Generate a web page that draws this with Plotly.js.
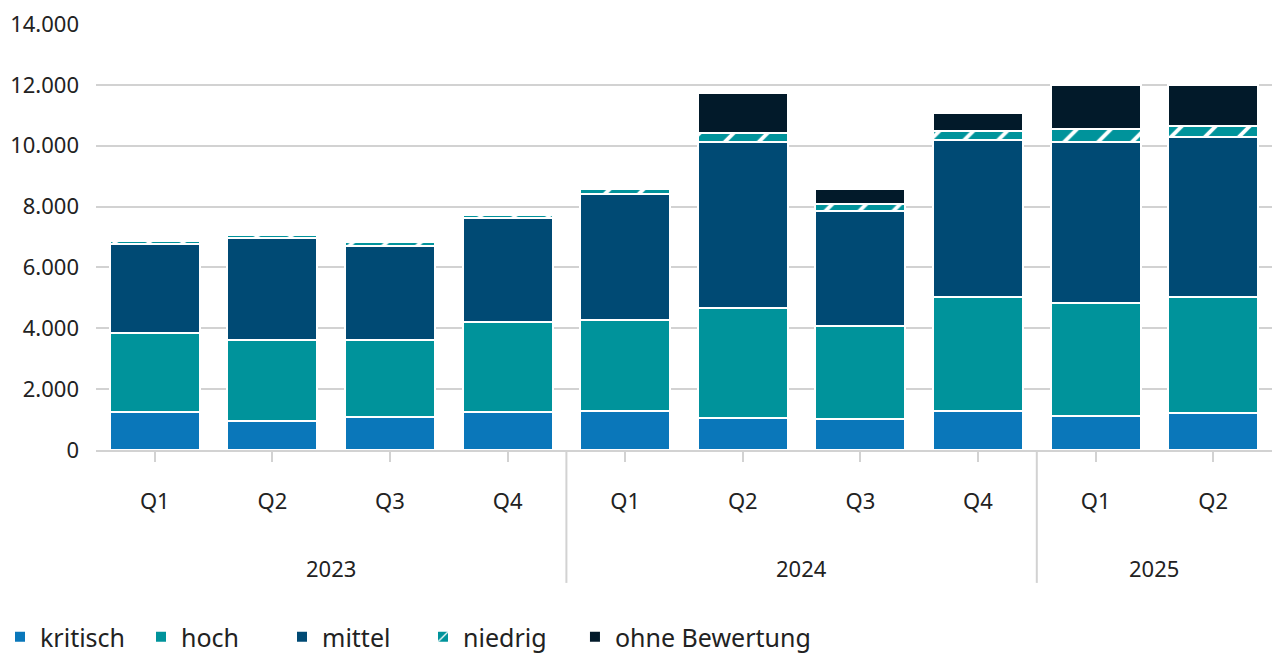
<!DOCTYPE html>
<html>
<head>
<meta charset="utf-8">
<script src="https://cdn.plot.ly/plotly-3.0.1.min.js"></script>
<style>
html,body{margin:0;padding:0;background:#fff;}
#chart{width:1276px;height:653px;}
</style>
</head>
<body>
<div id="chart"></div>
<script>
const years    = ['2023','2023','2023','2023','2024','2024','2024','2024','2025','2025'];
const quarters = ['Q1','Q2','Q3','Q4','Q1','Q2','Q3','Q4','Q1','Q2'];

const kritisch = [1250, 950, 1085, 1250, 1280, 1050, 1020, 1280, 1120, 1215];
const hoch     = [2600, 2665, 2530, 2950, 2990, 3620, 3055, 3750, 3710, 3815];
const mittel   = [2920, 3355, 3085, 3420, 4140, 5450, 3775, 5160, 5290, 5260];
const niedrig  = [90, 100, 120, 100, 180, 300, 250, 300, 420, 350];
const ohne     = [0, 0, 0, 0, 0, 1310, 480, 585, 1460, 1360];

const yTicks = [0, 2000, 4000, 6000, 8000, 10000, 12000, 14000];

const FONT = 'Noto Sans, Open Sans, sans-serif';
const TXT = '#222222';
const GRID = '#d2d2d2';
const line = {color: '#ffffff', width: 2};
const cats = years.map((y, i) => y + ' ' + quarters[i]);

function bar(name, y, color, extra, legend) {
  return {
    type: 'bar', name: name, x: cats, y: y, legend: legend || 'legend',
    marker: Object.assign({color: color, line: line}, extra || {}),
    hoverinfo: 'name+y'
  };
}

const traces = [
  bar('kritisch', kritisch, '#0a77ba'),
  bar('hoch', hoch, '#00939b'),
  bar('mittel', mittel, '#004a74'),
  bar('niedrig', niedrig, '#00939b', {pattern: {shape: '/', fgcolor: '#ffffff', bgcolor: '#00939b', size: 24, solidity: 0.16, fillmode: 'replace'}}),
  bar('ohne Bewertung', ohne, '#021a2a', null, 'legend2')
];

// year group labels and dividers, derived from the years array
const shapes = [];
const annotations = [];
let start = 0;
for (let i = 1; i <= years.length; i++) {
  if (i === years.length || years[i] !== years[i - 1]) {
    annotations.push({xref: 'x', yref: 'paper', x: (start + i - 1) / 2, y: -0.277,
      text: years[start], showarrow: false, xanchor: 'center', yanchor: 'middle',
      font: {family: FONT, size: 22, color: TXT}});
    if (i < years.length) {
      shapes.push({type: 'line', xref: 'x', yref: 'paper', x0: i - 0.5, x1: i - 0.5,
        y0: 0, y1: -0.312, line: {color: GRID, width: 2}});
    }
    start = i;
  }
}

const legendBase = {orientation: 'h', xref: 'container', yref: 'container', xanchor: 'left',
  y: 0.0245, yanchor: 'middle', font: {family: FONT, size: 25, color: TXT},
  traceorder: 'normal', itemwidth: 30};

const layout = {
  width: 1276, height: 653,
  margin: {l: 96, r: 4, t: 24, b: 203},
  paper_bgcolor: '#ffffff', plot_bgcolor: '#ffffff',
  barmode: 'stack', bargap: 0.235,
  separators: ',.',
  font: {family: FONT, size: 22, color: TXT},
  showlegend: true,
  legend: Object.assign({}, legendBase, {x: 0, entrywidth: 96, entrywidthmode: 'pixels'}),
  legend2: Object.assign({}, legendBase, {x: 0.4506}),
  xaxis: {
    type: 'category', tickvals: cats, ticktext: quarters,
    ticks: 'outside', ticklen: 10, tickcolor: GRID, tickwidth: 2,
    ticklabelstandoff: 21,
    showline: true, linecolor: GRID, linewidth: 2,
    tickfont: {family: FONT, size: 22, color: TXT},
    showgrid: false, range: [-0.5, 9.5], fixedrange: true, automargin: false
  },
  yaxis: {
    range: [0, 14000], tickvals: yTicks, tickformat: ',d',
    showgrid: true, gridcolor: GRID, gridwidth: 2, zeroline: false,
    ticks: '', ticklabelstandoff: 16, automargin: false,
    tickfont: {family: FONT, size: 22, color: TXT}, fixedrange: true
  },
  shapes: shapes,
  annotations: annotations
};

Plotly.newPlot('chart', traces, layout, {displayModeBar: false, staticPlot: true});
</script>
</body>
</html>
